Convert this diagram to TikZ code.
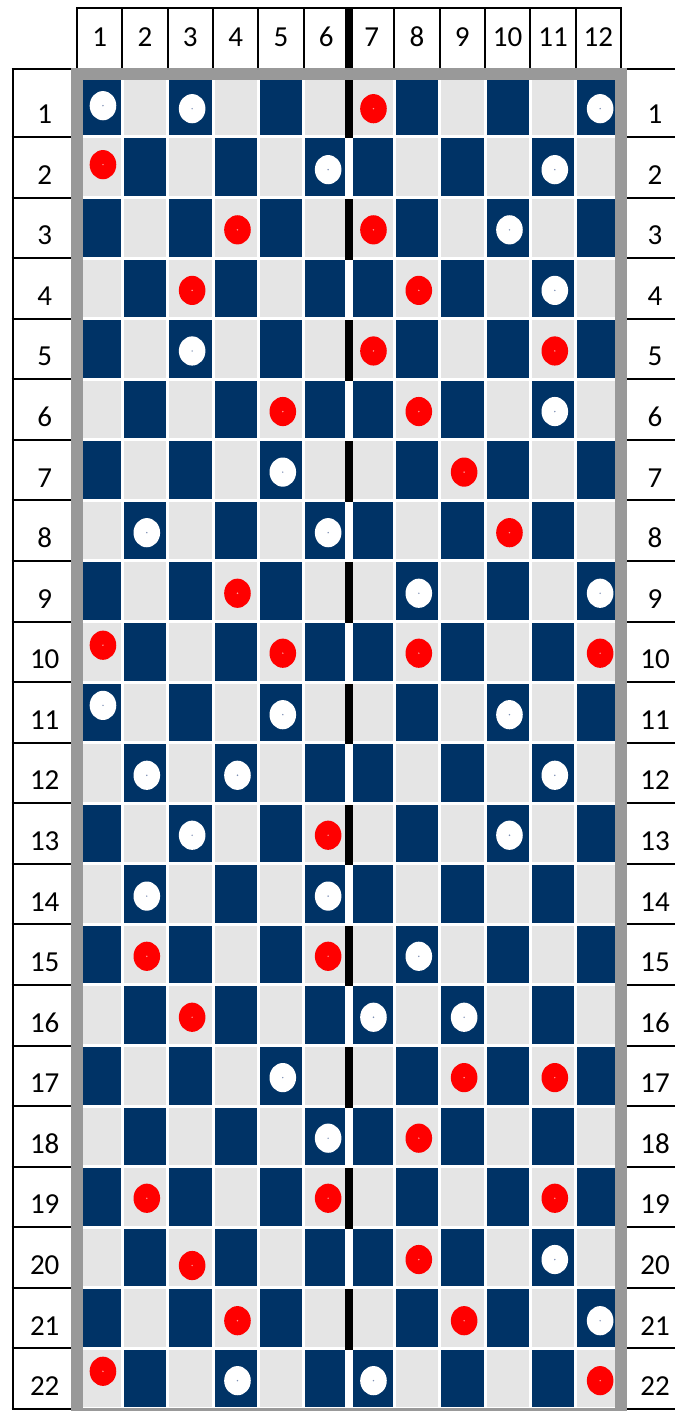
\documentclass[tikz,border=0pt]{standalone}
\usepackage{fontspec}
\setmainfont{Carlito}
\definecolor{darkcell}{HTML}{003366}
\definecolor{lightcell}{HTML}{E5E5E5}
\definecolor{framegray}{HTML}{999999}
\definecolor{diskred}{HTML}{FF0000}
\definecolor{wdot}{HTML}{7F90B4}
\definecolor{rdot}{HTML}{FF9A9A}
\begin{document}
\begin{tikzpicture}[x=1pt,y=-1pt,
  lbl/.style={font=\fontsize{29}{29}\selectfont, inner sep=0pt, anchor=base, text=black},
  gridline/.style={line width=2pt, black},
  diskw/.style={fill=white},
  diskr/.style={fill=diskred}]
\useasboundingbox (0,0) rectangle (675,1411);
\fill[white] (0,0) rectangle (675,1411);
% checkerboard cells
\foreach \r in {1,...,22}{
  \foreach \c in {1,...,12}{
    \pgfmathsetmacro\xa{77+45.3333*(\c-1)+((\c==7)?4:1.5)}
    \pgfmathsetmacro\xb{77+45.3333*\c-((\c==6)?4:1.5)}
    \pgfmathsetmacro\ya{76.4+60.57*(\r-1)+1.5}
    \pgfmathsetmacro\yb{76.4+60.57*\r-1.5}
    \pgfmathtruncatemacro\dk{(\c<7) ? (mod(\r+\c,2)==0) : (mod(\r+\c,2)==1)}
    \ifnum\dk=1
      \fill[darkcell] (\xa,\ya) rectangle (\xb,\yb);
    \else
      \fill[lightcell] (\xa,\ya) rectangle (\xb,\yb);
    \fi
  }
}
% black bars on odd rows
\foreach \r in {1,3,...,21}{
  \pgfmathsetmacro\ya{76.4+60.57*(\r-1)+1.5}
  \pgfmathsetmacro\yb{76.4+60.57*\r+1.5}
  \fill[black] (345,\ya) rectangle (353,\yb);
}
% header bar
\fill[black] (345,7) rectangle (353,68);
% gray frame
\draw[framegray, line width=12pt] (77,74) rectangle (621,1414);
% disks
\foreach \c/\r/\t/\dy in {
  1/1/w/-1, 3/1/w/2, 7/1/r/2, 12/1/w/2,
  1/2/r/-2.6, 6/2/w/2.4, 11/2/w/2.4,
  4/3/r/2, 7/3/r/2, 10/3/w/2,
  3/4/r/2, 8/4/r/2, 11/4/w/2,
  3/5/w/2, 7/5/r/2, 11/5/r/2,
  5/6/r/2, 8/6/r/2, 11/6/w/2,
  5/7/w/2, 9/7/r/2,
  2/8/w/2, 6/8/w/2, 10/8/r/2,
  4/9/r/2, 8/9/w/2, 12/9/w/2,
  1/10/r/-6.6, 5/10/r/1.4, 8/10/r/1.4, 12/10/r/1.4,
  1/11/w/-7, 5/11/w/2.3, 10/11/w/2.3,
  2/12/w/2.3, 4/12/w/2.3, 11/12/w/2.3,
  3/13/w/1.7, 6/13/r/1.7, 10/13/w/1.7,
  2/14/w/2, 6/14/w/2,
  2/15/r/1.6, 6/15/r/1.6, 8/15/w/1.6,
  3/16/r/2, 7/16/w/2, 9/16/w/2,
  5/17/w/1.8, 9/17/r/1.8, 11/17/r/1.8,
  6/18/w/1.8, 8/18/r/1.8,
  2/19/r/1.3, 6/19/r/1.3, 11/19/r/1.3,
  3/20/r/8, 8/20/r/2, 11/20/w/2,
  4/21/r/2.6, 9/21/r/2.6, 12/21/w/2.6,
  1/22/r/-7.4, 4/22/w/2, 7/22/w/2, 12/22/r/2}{
  \pgfmathsetmacro\xc{77+45.3333*(\c-0.5)+((\c==1)?3.3:1.8)}
  \pgfmathsetmacro\yc{76.4+60.57*(\r-0.5)+\dy}
  \if\t w
    \fill[diskw] (\xc,\yc) ellipse [x radius=13.3pt, y radius=14.6pt];
    \fill[wdot] (\xc,\yc) circle [radius=0.8pt];
  \else
    \fill[diskr] (\xc,\yc) ellipse [x radius=13.3pt, y radius=14.6pt];
    \fill[rdot] (\xc,\yc) circle [radius=0.8pt];
  \fi
}
% header grid
\draw[gridline] (76,8) -- (622,8);
\foreach \i in {0,...,5,7,8,...,12}{
  \pgfmathsetmacro\xx{77+45.3333*\i}
  \draw[gridline] (\xx,8) -- (\xx,68);
}
% row label grids
\draw[gridline] (12.5,68) -- (12.5,1410);
\draw[gridline] (11.5,69) -- (71,69);
\draw[gridline] (627,69) -- (675,69);
\foreach \k in {1,...,22}{
  \pgfmathsetmacro\yy{76.4+60.57*\k}
  \draw[gridline] (11.5,\yy) -- (71,\yy);
  \draw[gridline] (627,\yy) -- (675,\yy);
}
% header labels
\foreach \i in {1,...,12}{
  \pgfmathsetmacro\xx{77+45.3333*(\i-0.5)}
  \node[lbl] (h\i) at (\xx,46.7) {\i};
}
% row labels
\foreach \k in {1,...,22}{
  \pgfmathsetmacro\yy{76.4+60.57*\k-13.3}
  \node[lbl] (l\k) at (44.7,\yy) {\k};
  \node[lbl] (r\k) at (655,\yy) {\k};
}
\end{tikzpicture}
\end{document}
